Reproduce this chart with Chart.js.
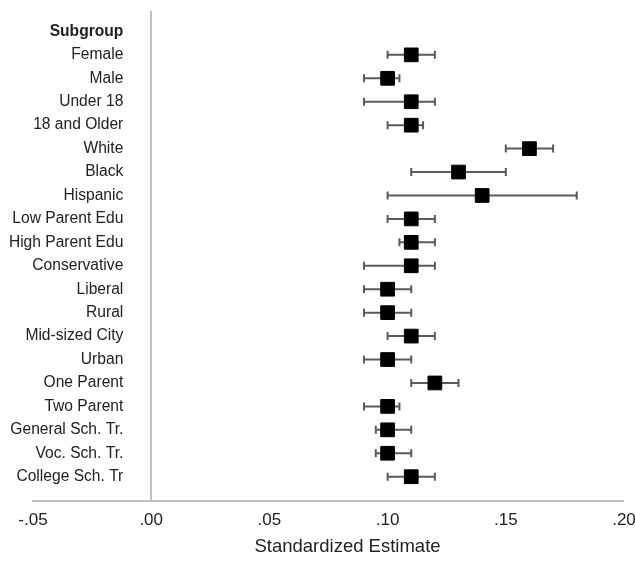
<!DOCTYPE html>
<html>
<head>
<meta charset="utf-8">
<script src="https://cdn.jsdelivr.net/npm/chart.js@4/dist/chart.umd.min.js"></script>
<style>
  html, body { margin: 0; padding: 0; background: #ffffff; }
  #wrap { width: 635px; height: 561px; position: relative; }
</style>
</head>
<body>
<div id="wrap"><canvas id="c" width="635" height="561"></canvas></div>
<script>
const headerLabel = 'Subgroup';
const categories = ['Female', 'Male', 'Under 18', '18 and Older', 'White', 'Black', 'Hispanic',
  'Low Parent Edu', 'High Parent Edu', 'Conservative', 'Liberal', 'Rural', 'Mid-sized City',
  'Urban', 'One Parent', 'Two Parent', 'General Sch. Tr.', 'Voc. Sch. Tr.', 'College Sch. Tr'];
const estimates = [0.11, 0.10, 0.11, 0.11, 0.16, 0.13, 0.14, 0.11, 0.11, 0.11, 0.10, 0.10, 0.11, 0.10, 0.12, 0.10, 0.10, 0.10, 0.11];
const lowerCI   = [0.10, 0.09, 0.09, 0.10, 0.15, 0.11, 0.10, 0.10, 0.105, 0.09, 0.09, 0.09, 0.10, 0.09, 0.11, 0.09, 0.095, 0.095, 0.10];
const upperCI   = [0.12, 0.105, 0.12, 0.115, 0.17, 0.15, 0.18, 0.12, 0.12, 0.12, 0.11, 0.11, 0.12, 0.11, 0.13, 0.105, 0.11, 0.11, 0.12];
const xTickValues = [-0.05, 0, 0.05, 0.10, 0.15, 0.20];
const xTickLabels = ['-.05', '.00', '.05', '.10', '.15', '.20'];
const xAxisTitle = 'Standardized Estimate';

const rowLabels = [headerLabel].concat(categories);
const FONT = "'Liberation Sans', Arial, sans-serif";

const pointData = categories.map((c, i) => ({ x: estimates[i], y: i + 1 }));
const whiskerData = [];
categories.forEach((c, i) => {
  whiskerData.push({ x: lowerCI[i], y: i + 1 });
  whiskerData.push({ x: upperCI[i], y: i + 1 });
  whiskerData.push({ x: null, y: null });
});

const titlePlugin = {
  id: 'xTitle',
  afterDraw(chart) {
    const xs = chart.scales.x;
    const ctx = chart.ctx;
    ctx.save();
    ctx.font = '18.5px ' + FONT;
    ctx.fillStyle = '#222222';
    ctx.textAlign = 'center';
    ctx.textBaseline = 'middle';
    ctx.fillText(xAxisTitle, (xs.left + xs.right) / 2 + 19, 547);
    ctx.restore();
  }
};

new Chart(document.getElementById('c'), {
  type: 'scatter',
  data: {
    datasets: [
      {
        label: 'Estimate',
        data: pointData,
        order: 0,
        pointStyle: 'rect',
        pointRadius: 9.7,
        pointHoverRadius: 9.7,
        backgroundColor: '#000000',
        borderColor: '#000000',
        borderWidth: 1
      },
      {
        label: 'CI',
        data: whiskerData,
        order: 1,
        showLine: true,
        spanGaps: false,
        borderColor: '#5a5a5a',
        borderWidth: 2,
        pointStyle: 'line',
        rotation: 90,
        pointRadius: 4,
        pointHoverRadius: 4,
        pointBorderWidth: 2,
        pointBorderColor: '#5a5a5a',
        backgroundColor: '#5a5a5a'
      }
    ]
  },
  plugins: [titlePlugin],
  options: {
    responsive: false,
    animation: false,
    events: [],
    layout: { padding: { left: 33, right: 11, top: 8, bottom: 20 } },
    plugins: { legend: { display: false }, tooltip: { enabled: false }, title: { display: false } },
    scales: {
      x: {
        type: 'linear',
        position: 'bottom',
        min: -0.05,
        max: 0.20,
        afterBuildTicks: (scale) => { scale.ticks = xTickValues.map(v => ({ value: v })); },
        afterFit: (scale) => { scale.paddingLeft = 0; scale.paddingRight = 0; },
        ticks: {
          autoSkip: false,
          maxRotation: 0,
          padding: 10,
          color: '#222222',
          font: { family: FONT, size: 17 },
          callback: (v, i) => xTickLabels[i]
        },
        grid: {
          drawTicks: false,
          color: (ctx) => (ctx.tick && Math.abs(ctx.tick.value) < 1e-9) ? '#c0c0c0' : 'rgba(0,0,0,0)',
          lineWidth: (ctx) => (ctx.tick && Math.abs(ctx.tick.value) < 1e-9) ? 2 : 0
        },
        border: { display: true, color: '#c0c0c0', width: 2 }
      },
      y: {
        type: 'linear',
        reverse: true,
        min: -0.885,
        max: 20.02,
        position: { x: -0.0118 },
        afterBuildTicks: (scale) => { scale.ticks = rowLabels.map((l, i) => ({ value: i })); },
        afterFit: (scale) => { scale.paddingTop = 0; scale.paddingBottom = 0; },
        ticks: {
          autoSkip: false,
          padding: 0,
          color: '#222222',
          font: (ctx) => ({ family: FONT, size: 15.6, weight: ctx.index === 0 ? 'bold' : 'normal' }),
          callback: (v) => rowLabels[v]
        },
        grid: { display: false, drawTicks: false },
        border: { display: false }
      }
    }
  }
});
</script>
</body>
</html>
